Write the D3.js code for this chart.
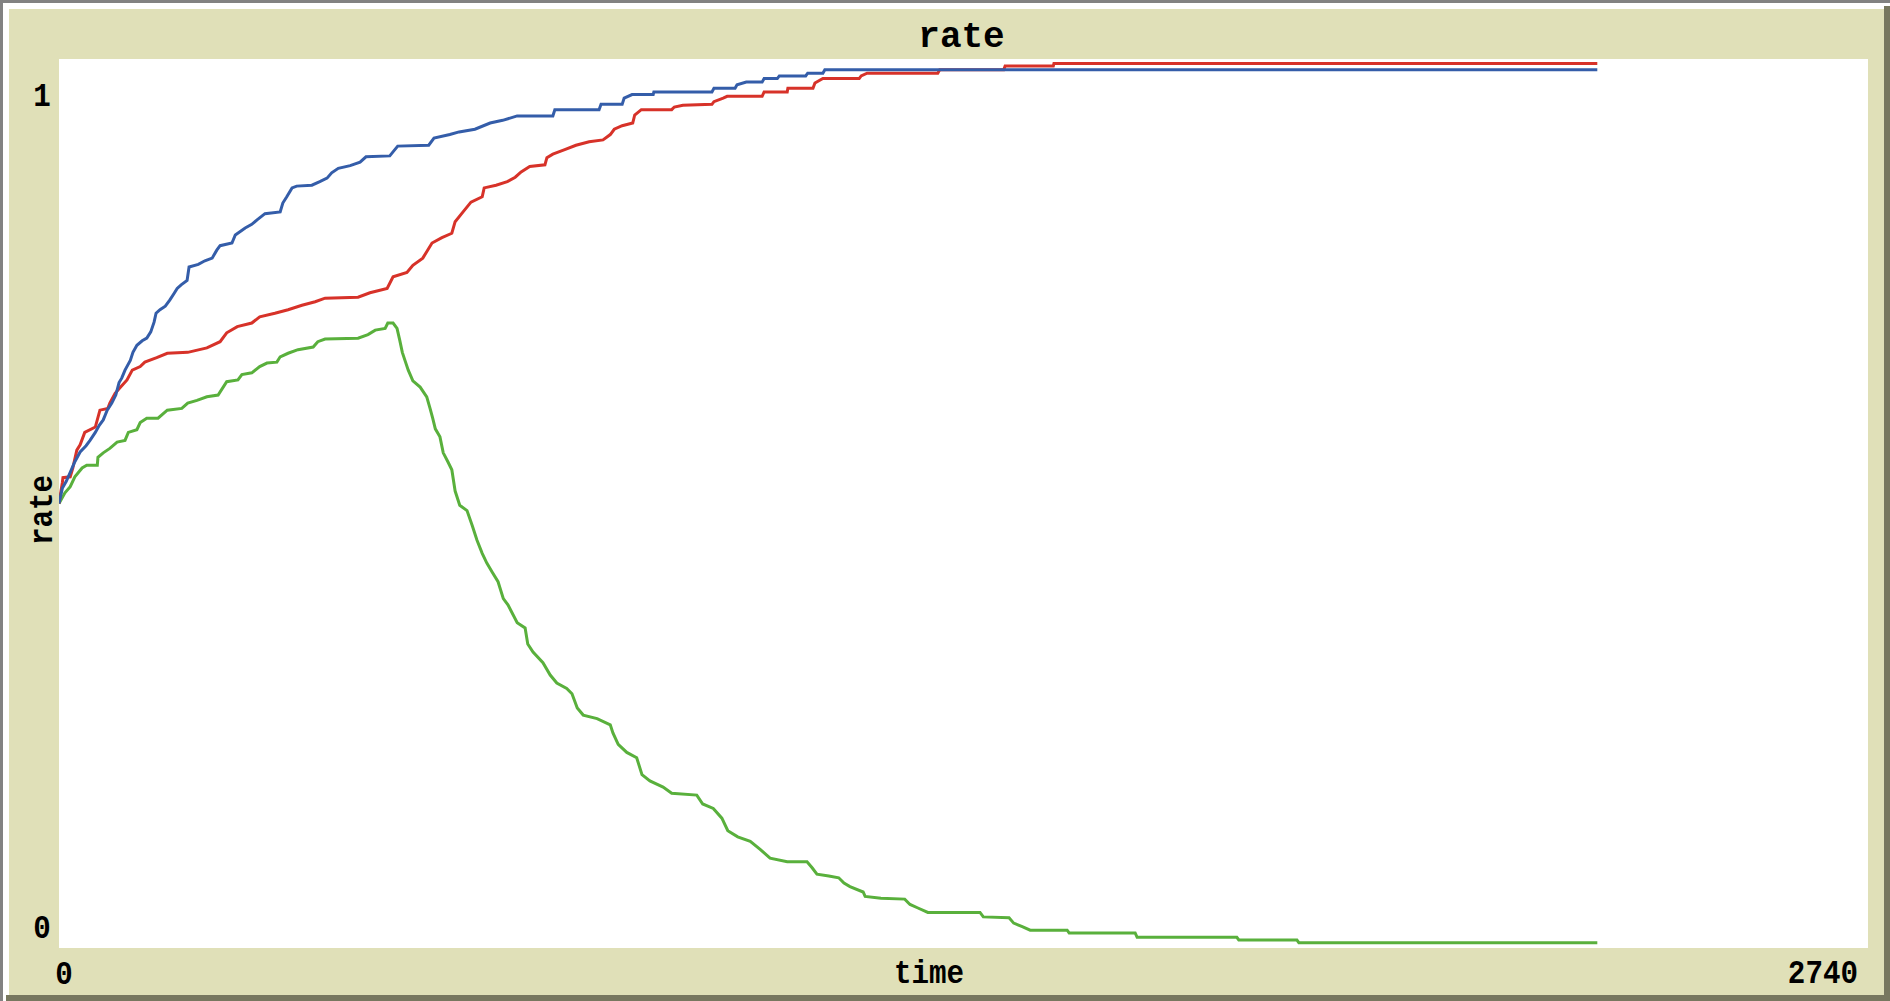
<!DOCTYPE html>
<html>
<head>
<meta charset="utf-8">
<script src="https://cdn.jsdelivr.net/npm/d3@7"></script>
<style>
  html, body { margin: 0; padding: 0; background: #ffffff; }
  svg { display: block; }
</style>
</head>
<body>
<svg id="chart" width="1890" height="1001"></svg>
<script>
// ---- data ----
const chartTitle = "rate";
const xTitle = "time";
const yTitle = "rate";
const xTickLabels = ["0", "2740"];
const yTickLabels = ["0", "1"];
const xDomain = [0, 2740];
const yDomain = [0, 1];

const seriesNames = ["green", "red", "blue"];

const greenSeries = [
  [0,0.500],[9,0.512],[17,0.519],[24,0.530],[35,0.540],[42,0.543],[58,0.543],[59,0.552],
  [67,0.557],[77,0.562],[88,0.569],[100,0.571],[105,0.580],[118,0.583],[123,0.591],[133,0.596],
  [150,0.596],[164,0.605],[186,0.607],[195,0.613],[209,0.616],[224,0.620],[241,0.622],[254,0.637],
  [271,0.639],[277,0.645],[292,0.647],[304,0.654],[315,0.658],[330,0.659],[335,0.665],[347,0.669],
  [362,0.673],[385,0.676],[392,0.682],[403,0.685],[453,0.686],[468,0.690],[479,0.695],[494,0.697],
  [498,0.703],[506,0.703],[512,0.697],[516,0.684],[520,0.670],[524,0.661],[529,0.650],[536,0.638],
  [547,0.631],[557,0.620],[562,0.607],[566,0.596],[570,0.584],[577,0.575],[582,0.557],[589,0.547],
  [595,0.538],[600,0.514],[607,0.498],[618,0.492],[626,0.475],[633,0.459],[641,0.444],[648,0.433],
  [656,0.423],[665,0.412],[673,0.393],[680,0.386],[694,0.366],[706,0.360],[710,0.342],[718,0.333],
  [733,0.321],[744,0.307],[754,0.298],[769,0.292],[777,0.286],[785,0.270],[794,0.262],[815,0.258],
  [835,0.251],[839,0.242],[847,0.229],[860,0.220],[875,0.214],[883,0.195],[895,0.188],[915,0.181],
  [928,0.174],[966,0.172],[975,0.162],[991,0.157],[1004,0.146],[1013,0.132],[1028,0.125],[1047,0.120],
  [1062,0.111],[1077,0.101],[1103,0.097],[1133,0.097],[1141,0.090],[1148,0.083],[1166,0.081],[1181,0.079],
  [1189,0.073],[1198,0.069],[1218,0.063],[1221,0.058],[1245,0.056],[1281,0.055],[1289,0.049],[1301,0.045],
  [1316,0.040],[1395,0.040],[1400,0.035],[1439,0.034],[1446,0.028],[1459,0.024],[1471,0.020],[1527,0.020],
  [1530,0.017],[1630,0.017],[1633,0.012],[1784,0.012],[1787,0.009],[1875,0.009],[1878,0.006],[2330,0.006]
];

const redSeries = [
  [0,0.500],[5,0.523],[6,0.529],[17,0.530],[21,0.540],[27,0.560],[32,0.566],[39,0.580],
  [55,0.586],[62,0.605],[74,0.607],[77,0.613],[85,0.624],[92,0.630],[103,0.639],[111,0.650],
  [123,0.654],[130,0.659],[148,0.664],[164,0.669],[195,0.670],[224,0.675],[244,0.682],[254,0.692],
  [270,0.699],[292,0.703],[304,0.710],[327,0.714],[347,0.718],[368,0.723],[388,0.727],[403,0.731],
  [453,0.732],[471,0.737],[497,0.742],[506,0.755],[527,0.760],[536,0.768],[551,0.776],[565,0.793],
  [580,0.799],[595,0.804],[600,0.817],[612,0.828],[624,0.839],[641,0.845],[644,0.855],[662,0.858],
  [679,0.862],[691,0.867],[700,0.873],[713,0.879],[736,0.881],[739,0.889],[748,0.893],[766,0.898],
  [783,0.903],[803,0.907],[824,0.909],[835,0.915],[841,0.921],[853,0.925],[869,0.928],[872,0.937],
  [882,0.943],[928,0.943],[932,0.946],[945,0.948],[989,0.949],[992,0.952],[1006,0.956],[1012,0.958],
  [1065,0.958],[1068,0.963],[1103,0.963],[1104,0.967],[1142,0.967],[1145,0.973],[1157,0.978],[1212,0.978],
  [1215,0.981],[1224,0.984],[1331,0.984],[1334,0.988],[1431,0.988],[1433,0.992],[1506,0.992],[1507,0.995],
  [2330,0.995]
];

const blueSeries = [
  [0,0.500],[5,0.517],[11,0.525],[17,0.535],[24,0.547],[32,0.558],[41,0.565],[47,0.571],
  [55,0.580],[61,0.588],[67,0.594],[73,0.605],[80,0.613],[86,0.622],[91,0.636],[95,0.641],
  [100,0.650],[108,0.661],[112,0.670],[118,0.678],[126,0.683],[133,0.686],[139,0.693],[144,0.704],
  [147,0.714],[153,0.718],[161,0.722],[168,0.729],[174,0.736],[179,0.742],[185,0.746],[194,0.751],
  [197,0.766],[211,0.769],[221,0.773],[232,0.776],[239,0.785],[244,0.790],[262,0.793],[267,0.802],
  [282,0.810],[292,0.814],[300,0.819],[312,0.826],[335,0.828],[339,0.838],[345,0.845],[353,0.855],
  [360,0.857],[383,0.858],[395,0.862],[406,0.866],[413,0.872],[423,0.877],[441,0.880],[456,0.884],
  [465,0.890],[501,0.891],[513,0.902],[560,0.903],[568,0.911],[592,0.915],[606,0.918],[630,0.921],
  [653,0.928],[672,0.931],[694,0.936],[748,0.936],[751,0.943],[818,0.943],[821,0.949],[853,0.949],
  [856,0.956],[868,0.960],[900,0.960],[901,0.963],[989,0.963],[992,0.967],[1024,0.967],[1027,0.971],
  [1041,0.974],[1065,0.974],[1068,0.978],[1088,0.978],[1091,0.981],[1131,0.981],[1134,0.984],[1157,0.984],
  [1160,0.988],[2330,0.988]
];

const seriesColors = ["rgb(89,176,60)", "rgb(215,50,41)", "rgb(52,93,169)"];

// ---- layout ----
const W = 1890, H = 1001;
const plot = { left: 59, top: 59, right: 1868, bottom: 948 };
const khaki = "#e0e0b8";
const fontFam = "'Liberation Mono', 'Courier New', monospace";

const svg = d3.select("#chart");

// frame
svg.append("rect").attr("x", 0).attr("y", 0).attr("width", W).attr("height", H).attr("fill", "#ffffff");
svg.append("rect").attr("x", 0).attr("y", 0).attr("width", W).attr("height", 3).attr("fill", "#828282");
svg.append("rect").attr("x", 0).attr("y", 0).attr("width", 3).attr("height", H).attr("fill", "#828282");
svg.append("rect").attr("x", 9).attr("y", 9).attr("width", 1875).attr("height", 986).attr("fill", khaki);
svg.append("rect").attr("x", 6).attr("y", 995).attr("width", W - 6).attr("height", 6).attr("fill", "#77775f");
svg.append("rect").attr("x", 1884).attr("y", 6).attr("width", 6).attr("height", H - 6).attr("fill", "#77775f");

// plot area
svg.append("rect")
  .attr("x", plot.left).attr("y", plot.top)
  .attr("width", plot.right - plot.left).attr("height", plot.bottom - plot.top)
  .attr("fill", "#ffffff");

const x = d3.scaleLinear().domain(xDomain).range([plot.left, plot.right]);
const y = d3.scaleLinear().domain(yDomain).range([plot.bottom, plot.top]);

svg.append("clipPath").attr("id", "clip")
  .append("rect")
  .attr("x", plot.left).attr("y", plot.top - 2)
  .attr("width", plot.right - plot.left).attr("height", plot.bottom - plot.top + 2);

const line = d3.line().x(d => x(d[0])).y(d => y(d[1])).curve(d3.curveLinear);

const allSeries = [greenSeries, redSeries, blueSeries];
const g = svg.append("g").attr("clip-path", "url(#clip)");
g.selectAll("path.series")
  .data(allSeries)
  .join("path")
  .attr("class", "series")
  .attr("d", d => line(d))
  .attr("fill", "none")
  .attr("stroke", (d, i) => seriesColors[i])
  .attr("stroke-width", 3)
  .attr("stroke-linejoin", "miter")
  .attr("stroke-linecap", "butt");

// title
svg.append("text")
  .attr("x", (plot.left + plot.right) / 2 - 2).attr("y", 47)
  .attr("text-anchor", "middle")
  .attr("font-family", fontFam).attr("font-weight", "bold").attr("font-size", 36)
  .attr("fill", "#000")
  .text(chartTitle);

function label(txt, tx, ty, anchor, rot) {
  svg.append("text")
    .attr("transform", `translate(${tx},${ty})` + (rot ? ` rotate(${rot})` : "") + " scale(0.86,1)")
    .attr("text-anchor", anchor)
    .attr("font-family", fontFam).attr("font-size", 34).attr("font-weight", "bold")
    .attr("fill", "#000")
    .text(txt);
}

// y tick labels (min at bottom, max at top)
label(yTickLabels[1], 42, 106, "middle");
label(yTickLabels[0], 42, 938, "middle");
// x tick labels
label(xTickLabels[0], x(xDomain[0]) + 5, 984, "middle");
label(xTickLabels[1], 1858, 983, "end");
// axis titles
label(xTitle, 929, 983, "middle");
label(yTitle, 52, 510, "middle", -90);
</script>
</body>
</html>
